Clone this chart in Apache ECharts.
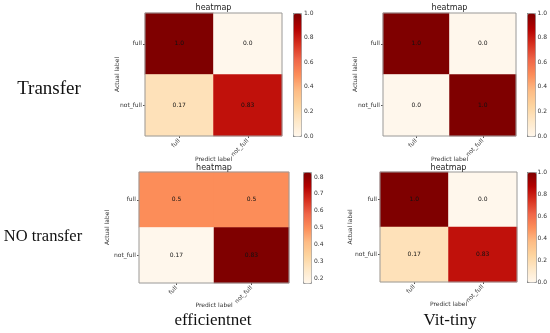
<!DOCTYPE html>
<html><head><meta charset="utf-8">
<script src="https://cdn.jsdelivr.net/npm/echarts@6/dist/echarts.min.js"></script>
<style>html,body{margin:0;padding:0;background:#fff}#c{width:550px;height:333px}</style>
</head><body><div id="c"></div>
<script>
var classes = ['full', 'not_full'];
// confusion matrices [predictIndex, actualIndex, value]
var transferEff = [[0,0,1.0],[1,0,0.0],[0,1,0.17],[1,1,0.83]];
var transferVit = [[0,0,1.0],[1,0,0.0],[0,1,0.0],[1,1,1.0]];
var noTransferEff = [[0,0,0.5],[1,0,0.5],[0,1,0.17],[1,1,0.83]];
var noTransferVit = [[0,0,1.0],[1,0,0.0],[0,1,0.17],[1,1,0.83]];
var ticksFull = [0.0, 0.2, 0.4, 0.6, 0.8, 1.0];
var ticksEffNo = [0.2, 0.3, 0.4, 0.5, 0.6, 0.7, 0.8];
var rangeFull = [0, 1];
var rangeEffNo = [0.17, 0.83];

var OrRd = ['#fff7ec','#fee8c8','#fdd49e','#fdbb84','#fc8d59','#ef6548','#d7301f','#b30000','#7f0000'];
var FONT = 'DejaVu Sans';
var panels = [
  {data: transferEff, range: rangeFull, ticks: ticksFull, g: {left:145, top:13, width:137, height:123}, cb: {left:293, width:8}, yGap: 25, xGap: 20.5, tTop: 3},
  {data: transferVit, range: rangeFull, ticks: ticksFull, g: {left:383, top:13, width:133, height:123}, cb: {left:527, width:8}, yGap: 25, xGap: 20.5, tTop: 3},
  {data: noTransferEff, range: rangeEffNo, ticks: ticksEffNo, g: {left:139, top:172, width:150, height:111}, cb: {left:303, width:8}, yGap: 29, xGap: 19, tTop: 163.5},
  {data: noTransferVit, range: rangeFull, ticks: ticksFull, g: {left:380, top:172, width:137, height:110}, cb: {left:527, width:9}, yGap: 27, xGap: 19, tTop: 163.5}
];

var grid = [], xAxis = [], yAxis = [], series = [], visualMap = [], title = [];
panels.forEach(function(p, i){
  grid.push({left:p.g.left, top:p.g.top, width:p.g.width, height:p.g.height, show:true, borderColor:'#9a9a9a', borderWidth:1, backgroundColor:'transparent', z:5});
  xAxis.push({type:'category', gridIndex:i*2, data:classes, name:'Predict label', nameLocation:'middle', nameGap:p.xGap, nameMoveOverlap:false,
    nameTextStyle:{fontSize:6, fontFamily:FONT, color:'#333'},
    axisLine:{show:false}, axisTick:{show:true, alignWithLabel:true, length:2, lineStyle:{color:'#555'}},
    axisLabel:{rotate:45, fontSize:6, fontFamily:FONT, color:'#333', margin:4}, splitLine:{show:false}});
  yAxis.push({type:'category', gridIndex:i*2, data:classes, inverse:true, name:'Actual label', nameLocation:'middle', nameGap:p.yGap, nameMoveOverlap:false,
    nameTextStyle:{fontSize:6, fontFamily:FONT, color:'#333'},
    axisLine:{show:false}, axisTick:{show:true, alignWithLabel:true, length:2, lineStyle:{color:'#555'}},
    axisLabel:{fontSize:6, fontFamily:FONT, color:'#333', margin:3}, splitLine:{show:false}});
  // colorbar axis grid
  grid.push({left:p.cb.left, top:p.g.top, width:p.cb.width, height:p.g.height, show:false});
  xAxis.push({type:'value', gridIndex:i*2+1, show:false, min:0, max:1});
  yAxis.push({type:'value', gridIndex:i*2+1, position:'right', min:p.range[0], max:p.range[1],
    axisLine:{show:false}, splitLine:{show:false},
    axisTick:{show:true, length:2, lineStyle:{color:'#555'}, customValues:p.ticks},
    axisLabel:{fontSize:6, fontFamily:FONT, color:'#333', margin:3, customValues:p.ticks,
      formatter:function(v){return v.toFixed(1);}}});
  series.push({type:'heatmap', xAxisIndex:i*2, yAxisIndex:i*2, data:p.data,
    label:{show:true, fontSize:6, fontFamily:FONT, color:'#111',
      formatter:function(o){var v=o.value[2]; return (v%1===0)? v.toFixed(1) : String(v);}},
    itemStyle:{borderWidth:0}, emphasis:{disabled:true}});
  visualMap.push({type:'continuous', seriesIndex:i, min:p.range[0], max:p.range[1], calculable:false,
    left:p.cb.left, top:p.g.top, itemWidth:p.cb.width, itemHeight:p.g.height, padding:0,
    borderColor:'#9a9a9a', borderWidth:1, inRange:{color:OrRd}, text:null, showLabel:false});
  title.push({text:'heatmap', left:p.g.left + p.g.width/2, top:p.tTop, textAlign:'center',
    textStyle:{fontSize:8, fontWeight:'normal', fontFamily:FONT, color:'#222', lineHeight:9}, padding:0});
});

var serif = 'Liberation Serif';
var option = {
  animation:false,
  backgroundColor:'#fff',
  title:title, grid:grid, xAxis:xAxis, yAxis:yAxis, series:series, visualMap:visualMap,
  graphic:[
    {type:'text', x:49, y:89, style:{text:'Transfer', font:'19px "'+serif+'"', fill:'#111', textAlign:'center', textVerticalAlign:'middle'}},
    {type:'text', x:43, y:237, style:{text:'NO transfer', font:'16.5px "'+serif+'"', fill:'#111', textAlign:'center', textVerticalAlign:'middle'}},
    {type:'text', x:213, y:321, style:{text:'efficientnet', font:'17px "'+serif+'"', fill:'#111', textAlign:'center', textVerticalAlign:'middle'}},
    {type:'text', x:450, y:321, style:{text:'Vit-tiny', font:'17px "'+serif+'"', fill:'#111', textAlign:'center', textVerticalAlign:'middle'}}
  ]
};
echarts.init(document.getElementById('c')).setOption(option);
</script></body></html>
